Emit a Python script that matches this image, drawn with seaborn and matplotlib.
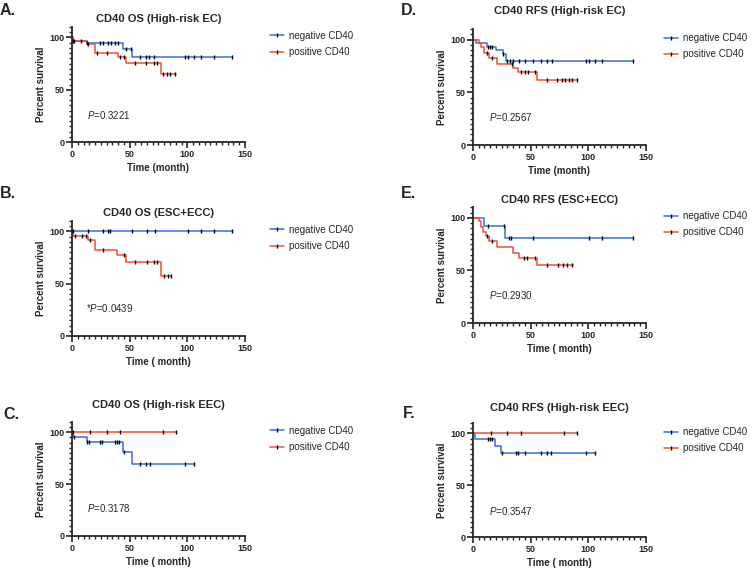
import numpy as np
import pandas as pd
import matplotlib.pyplot as plt
import seaborn as sns
from matplotlib.lines import Line2D
from matplotlib.ticker import MultipleLocator

sns.set_style("ticks")
plt.rcParams['font.family'] = ['Liberation Sans', 'DejaVu Sans']
plt.rcParams['mathtext.fontset'] = 'custom'
plt.rcParams['mathtext.it'] = 'Liberation Sans:italic'

BLUE = "#3D6BE0"
RED = "#F0503A"

# ---- data (time in months, percent survival) ----
# A. OS high-risk EC
a_neg_t = [0, 1, 13, 44, 52, 139]
a_neg_s = [100, 97, 95, 88.5, 81.5, 81.5]
a_neg_c = [1, 8, 13, 24, 27, 31, 34, 37, 40, 47, 51, 59, 64, 67, 71, 98, 101, 106, 112, 123, 139]
a_pos_t = [0, 1, 13, 20, 40, 47, 77, 90]
a_pos_s = [100, 97, 94, 85, 81, 75.5, 65, 65]
a_pos_c = [2, 14, 22, 30, 42, 45, 55, 64, 71, 74, 79, 82, 85, 89]

# D. RFS high-risk EC
d_neg_t = [0, 3, 12, 20, 26, 29, 139]
d_neg_s = [100, 96.5, 93.5, 90, 86, 80, 80]
d_neg_c = [13, 15, 17, 26, 30, 32, 35, 40, 45, 52, 59, 64, 69, 98, 101, 106, 112, 139]
d_pos_t = [0, 5, 7, 10, 14, 21, 35, 39, 56, 90]
d_pos_s = [100, 96.5, 93, 87, 83, 77, 73, 69, 62, 62]
d_pos_c = [12, 17, 34, 42, 45, 48, 54, 64, 73, 77, 80, 83, 86, 90]

# B. OS ESC+ECC
b_neg_t = [0, 139]
b_neg_s = [100, 100]
b_neg_c = [1, 14, 27, 31, 33, 52, 65, 72, 101, 112, 123, 139]
b_pos_t = [0, 1, 14, 20, 39, 47, 77, 86]
b_pos_s = [100, 96, 92, 82, 77, 71, 57, 57]
b_pos_c = [3, 9, 12, 16, 27, 45, 55, 65, 71, 74, 80, 83, 86]

# E. RFS ESC+ECC
e_neg_t = [0, 10, 28, 139]
e_neg_s = [100, 92, 80.5, 80.5]
e_neg_c = [13, 27, 31, 33, 52, 101, 112, 139]
e_pos_t = [0, 5, 7, 9, 11, 14, 21, 35, 40, 56, 87]
e_pos_s = [100, 97, 91, 87, 83, 78, 72.5, 67, 62, 55, 55]
e_pos_c = [12, 17, 44, 47, 54, 64, 74, 78, 82, 86]

# C. OS high-risk EEC
c_neg_t = [0, 1, 13, 44, 52, 106]
c_neg_s = [100, 95.5, 90.5, 81, 69, 69]
c_neg_c = [2, 13, 15, 24, 26, 37, 39, 41, 45, 59, 64, 68, 98, 106]
c_pos_t = [0, 90]
c_pos_s = [100, 100]
c_pos_c = [1, 16, 30, 42, 79, 90]

# F. RFS high-risk EEC
f_neg_t = [0, 2, 19, 24, 106]
f_neg_s = [100, 94.5, 87.5, 81, 81]
f_neg_c = [13, 15, 17, 25, 37, 39, 45, 59, 64, 68, 98, 106]
f_pos_t = [0, 90]
f_pos_s = [100, 100]
f_pos_c = [16, 30, 42, 79, 90]

panels = [
    dict(letter="A.", title="CD40 OS (High-risk EC)", xlabel="Time (month)", p="=0.3221", star="",
         neg=(a_neg_t, a_neg_s, a_neg_c), pos=(a_pos_t, a_pos_s, a_pos_c),
         rect=[0.0956, 0.7513, 0.2297, 0.2014], title_y=1.045, px=(13, 26),
         lpos=(0.0, 0.995), legx=1.12),
    dict(letter="D.", title="CD40 RFS (High-risk EC)", xlabel="Time (month)", p="=0.2567", star="",
         neg=(d_neg_t, d_neg_s, d_neg_c), pos=(d_pos_t, d_pos_s, d_pos_c),
         rect=[0.628, 0.746, 0.2297, 0.203], title_y=1.13, px=(14, 26.5),
         lpos=(0.533, 0.995), legx=1.08),
    dict(letter="B.", title="CD40 OS (ESC+ECC)", xlabel="Time ( month)", p="=0.0439", star="*",
         neg=(b_neg_t, b_neg_s, b_neg_c), pos=(b_pos_t, b_pos_s, b_pos_c),
         rect=[0.0956, 0.4116, 0.2297, 0.2014], title_y=1.045, px=(12, 27),
         lpos=(0.0, 0.674), legx=1.12),
    dict(letter="E.", title="CD40 RFS (ESC+ECC)", xlabel="Time ( month)", p="=0.2930", star="",
         neg=(e_neg_t, e_neg_s, e_neg_c), pos=(e_pos_t, e_pos_s, e_pos_c),
         rect=[0.628, 0.434, 0.2297, 0.203], title_y=1.035, px=(14, 26.5),
         lpos=(0.533, 0.674), legx=1.08),
    dict(letter="C.", title="CD40 OS (High-risk EEC)", xlabel="Time ( month)", p="=0.3178", star="",
         neg=(c_neg_t, c_neg_s, c_neg_c), pos=(c_pos_t, c_pos_s, c_pos_c),
         rect=[0.0956, 0.0613, 0.2297, 0.2], title_y=1.12, px=(13, 27),
         lpos=(0.004, 0.288), legx=1.12),
    dict(letter="F.", title="CD40 RFS (High-risk EEC)", xlabel="Time ( month)", p="=0.3547", star="",
         neg=(f_neg_t, f_neg_s, f_neg_c), pos=(f_pos_t, f_pos_s, f_pos_c),
         rect=[0.628, 0.059, 0.2297, 0.2], title_y=1.11, px=(14, 25.6),
         lpos=(0.535, 0.289), legx=1.08),
]

fig = plt.figure(figsize=(7.53, 5.71), dpi=100)

for pn in panels:
    ax = fig.add_axes(pn["rect"])
    for key, color in [("neg", BLUE), ("pos", RED)]:
        t, s, cens = pn[key]
        df = pd.DataFrame({"time": t, "surv": s})
        sns.lineplot(data=df, x="time", y="surv", ax=ax, color=color, lw=1.1,
                     drawstyle="steps-post", estimator=None, sort=False)
        idx = np.searchsorted(t, cens, side="right") - 1
        cdf = pd.DataFrame({"time": cens, "surv": np.array(s)[idx]})
        sns.scatterplot(data=cdf, x="time", y="surv", ax=ax, marker="|", color="black",
                        s=6, linewidth=1.0, zorder=5)
    ax.set_xlim(0, 150)
    ax.set_ylim(0, 110)
    ax.set_xticks([0, 50, 100, 150])
    ax.set_yticks([0, 50, 100])
    ax.xaxis.set_minor_locator(MultipleLocator(5))
    ax.yaxis.set_minor_locator(MultipleLocator(5))
    ax.tick_params(which="major", length=4, width=1.2, labelsize=6.5, pad=1.5)
    ax.tick_params(which="minor", length=2.2, width=1.0)
    for lab in ax.get_xticklabels() + ax.get_yticklabels():
        lab.set_fontweight("bold")
    for sp in ["left", "bottom"]:
        ax.spines[sp].set_linewidth(1.3)
    sns.despine(ax=ax)
    ax.set_xlabel(pn["xlabel"], fontsize=7, fontweight="bold", labelpad=3)
    ax.set_ylabel("Percent survival", fontsize=7, fontweight="bold", labelpad=2)
    ax.set_title(pn["title"], fontsize=8, fontweight="bold", y=pn["title_y"], pad=0)
    ax.text(pn["px"][0], pn["px"][1], pn["star"] + r"$\it{P}$" + pn["p"], fontsize=7,
            ha="left", va="center")
    handles = [Line2D([0], [0], color=BLUE, lw=1.1, marker="|", mec="black", ms=2.5),
               Line2D([0], [0], color=RED, lw=1.1, marker="|", mec="black", ms=2.5)]
    ax.legend(handles, ["negative CD40", "positive CD40"], loc="upper left",
              bbox_to_anchor=(pn["legx"], 1.0), frameon=False, fontsize=7,
              handlelength=1.5, handletextpad=0.5, labelspacing=0.65, borderaxespad=0)
    fig.text(pn["lpos"][0], pn["lpos"][1], pn["letter"], fontsize=11.5, fontweight="bold",
             ha="left", va="top")

fig.savefig("out.png", dpi=100)
